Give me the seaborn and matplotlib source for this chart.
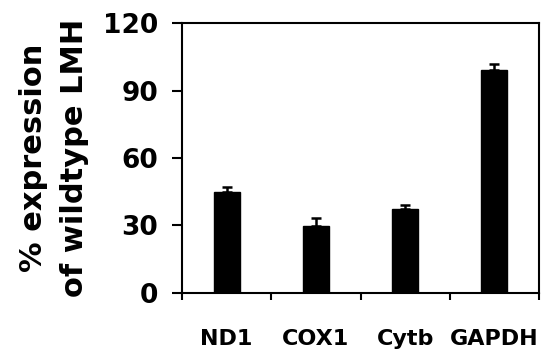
import matplotlib
matplotlib.use("Agg")
import matplotlib.pyplot as plt
import seaborn as sns
import pandas as pd
import numpy as np

categories = ["ND1", "COX1", "Cytb", "GAPDH"]
values = [45.0, 29.6, 37.2, 99.3]
errors = [2.1, 3.7, 2.1, 2.7]
yticks = [0, 30, 60, 90, 120]

sns.set_theme(style="ticks")
plt.rcParams["font.family"] = ["DejaVu Sans"]
plt.rcParams["font.weight"] = "bold"
plt.rcParams["text.color"] = "black"
plt.rcParams["axes.labelcolor"] = "black"
plt.rcParams["xtick.color"] = "black"
plt.rcParams["ytick.color"] = "black"

df = pd.DataFrame({"gene": categories, "value": values})

fig = plt.figure(figsize=(5.49, 3.53), dpi=100)
ax = fig.add_axes([0.3315, 0.17, 0.9818 - 0.3315, 0.9348 - 0.17])

sns.barplot(data=df, x="gene", y="value", order=categories, color="black",
            width=0.29, errorbar=None, ax=ax, saturation=1)
for p in ax.patches:
    p.set_edgecolor("black")

pos = np.arange(len(categories))
ax.errorbar(pos, values, yerr=[np.zeros(len(errors)), errors], fmt="none",
            ecolor="black", elinewidth=1.8, capsize=3.5, capthick=1.8)

ax.set_xlim(-0.5, len(categories) - 0.5)
ax.set_ylim(0, 120)
ax.set_yticks(yticks)
ax.set_yticklabels([str(t) for t in yticks], fontsize=19, fontweight="bold",
                   color="black")

# Category-boundary ticks (major) and labels at centers (minor)
ax.set_xticks(np.arange(-0.5, len(categories), 1.0))
ax.set_xticklabels([])
ax.set_xticks(pos, minor=True)
ax.set_xticklabels(categories, minor=True, fontsize=16, fontweight="bold",
                   color="black")
ax.tick_params(axis="x", which="major", length=5, width=1.5, direction="out",
               color="black")
ax.tick_params(axis="x", which="minor", length=0, pad=26)
ax.tick_params(axis="y", length=7, width=1.5, direction="out", pad=10,
               color="black")

for s in ax.spines.values():
    s.set_visible(True)
    s.set_linewidth(1.5)
    s.set_color("black")

ax.set_xlabel("")
ax.set_ylabel("% expression\nof wildtype LMH", fontsize=22, fontweight="bold",
              labelpad=10, linespacing=1.55, color="black")

fig.savefig("out.png", dpi=100)
